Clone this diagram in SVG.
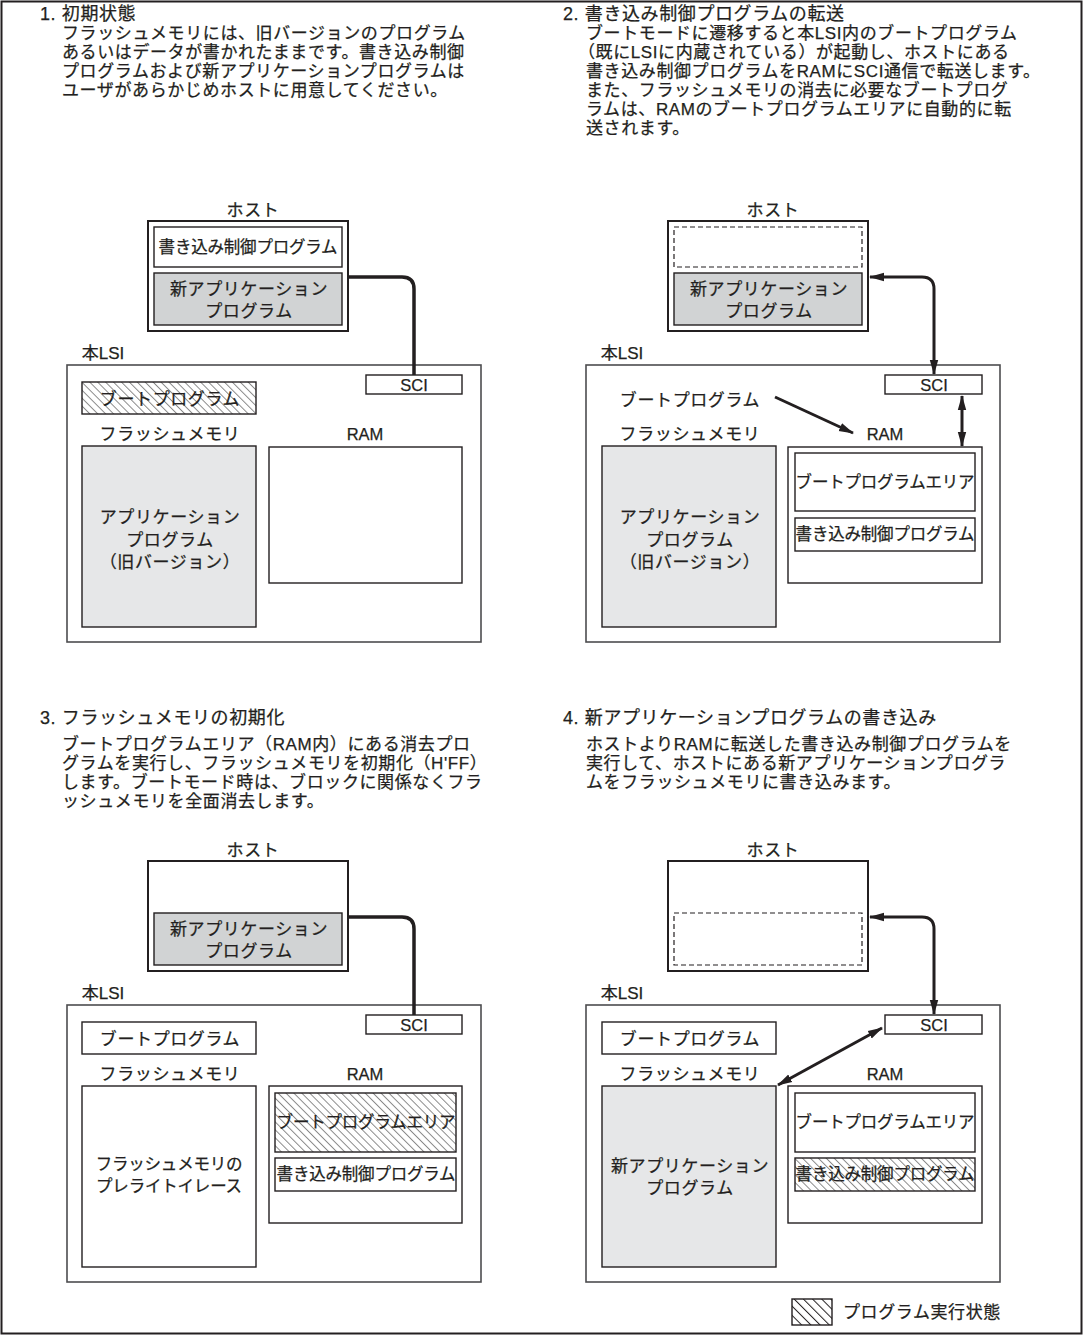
<svg xmlns="http://www.w3.org/2000/svg" width="1083" height="1335" viewBox="0 0 1083 1335">
<defs>
<style>
text{font-family:"Liberation Sans","Noto Sans CJK JP",sans-serif;fill:#231f20;stroke:#231f20;stroke-width:0.25px;}
.title{font-size:18px;letter-spacing:0.6px;}
.body{font-size:17px;letter-spacing:0.6px;}
.lbl{font-size:17px;letter-spacing:0.6px;text-anchor:middle;}
.tl{font-size:16.5px;letter-spacing:-0.2px;text-anchor:middle;}
.lat{font-size:16.5px;text-anchor:middle;}
.host{fill:#fff;stroke:#231f20;stroke-width:2;}
.box{fill:#fff;stroke:#231f20;stroke-width:1.4;}
.lsi{fill:#fff;stroke:#4d4d4f;stroke-width:1.6;}
.gray{fill:#d1d3d4;stroke:#231f20;stroke-width:1.4;}
.light{fill:#e6e7e8;stroke:#231f20;stroke-width:1.4;}
.dash{fill:none;stroke:#231f20;stroke-width:1.2;stroke-dasharray:5 3;}
.hatchfill{fill:url(#hatch);stroke:#231f20;stroke-width:1.4;}
.wire{fill:none;stroke:#231f20;stroke-width:3.5;}
.arr{fill:none;stroke:#231f20;stroke-width:3;marker-start:url(#ah);marker-end:url(#ah);}
.arr1{fill:none;stroke:#231f20;stroke-width:3;marker-end:url(#ah);}
</style>
<pattern id="hatch" patternUnits="userSpaceOnUse" width="5.6" height="10" patternTransform="rotate(-45)">
<rect width="5.6" height="10" fill="#fff"/>
<line x1="0.5" y1="0" x2="0.5" y2="10" stroke="#555" stroke-width="0.7"/>
</pattern>
<pattern id="hatchL" patternUnits="userSpaceOnUse" width="6.5" height="10" patternTransform="rotate(-45)">
<rect width="6.5" height="10" fill="#fff"/>
<line x1="0.5" y1="0" x2="0.5" y2="10" stroke="#231f20" stroke-width="1"/>
</pattern>
<marker id="ah" markerUnits="userSpaceOnUse" markerWidth="15" markerHeight="10" refX="14" refY="5" orient="auto-start-reverse">
<path d="M0,0.8 L15,5 L0,9.2 z" fill="#231f20"/>
</marker>
</defs>
<rect x="1.5" y="1.5" width="1080" height="1332" fill="#fff" stroke="#231f20" stroke-width="2"/>

<!-- Panel texts -->
<g id="text1">
<text class="title" x="40" y="20">1. 初期状態</text>
<text class="body" x="62" y="39">フラッシュメモリには、旧バージョンのプログラム</text>
<text class="body" x="62" y="58">あるいはデータが書かれたままです。書き込み制御</text>
<text class="body" x="62" y="77">プログラムおよび新アプリケーションプログラムは</text>
<text class="body" x="62" y="96">ユーザがあらかじめホストに用意してください。</text>
</g>
<g id="text2">
<text class="title" x="563" y="20">2. 書き込み制御プログラムの転送</text>
<text class="body" x="586" y="39">ブートモードに遷移すると本LSI内のブートプログラム</text>
<text class="body" x="578" y="58">（既にLSIに内蔵されている）が起動し、ホストにある</text>
<text class="body" x="586" y="77">書き込み制御プログラムをRAMにSCI通信で転送します。</text>
<text class="body" x="586" y="96">また、フラッシュメモリの消去に必要なブートプログ</text>
<text class="body" x="586" y="115">ラムは、RAMのブートプログラムエリアに自動的に転</text>
<text class="body" x="586" y="134">送されます。</text>
</g>
<g id="text3">
<text class="title" x="40" y="724">3. フラッシュメモリの初期化</text>
<text class="body" x="62" y="750">ブートプログラムエリア（RAM内）にある消去プロ</text>
<text class="body" x="62" y="769">グラムを実行し、フラッシュメモリを初期化（H'FF）</text>
<text class="body" x="62" y="788">します。ブートモード時は、ブロックに関係なくフラ</text>
<text class="body" x="62" y="807">ッシュメモリを全面消去します。</text>
</g>
<g id="text4">
<text class="title" x="563" y="724">4. 新アプリケーションプログラムの書き込み</text>
<text class="body" x="586" y="750">ホストよりRAMに転送した書き込み制御プログラムを</text>
<text class="body" x="586" y="769">実行して、ホストにある新アプリケーションプログラ</text>
<text class="body" x="586" y="788">ムをフラッシュメモリに書き込みます。</text>
</g>

<!-- Panel 1 -->
<g id="p1-host">
<text class="lbl" x="253" y="216">ホスト</text>
<rect class="host" x="148" y="221" width="200" height="110"/>
</g>
<g id="p1-write">
<rect class="box" x="154" y="227" width="188" height="40"/>
<text class="tl" x="248" y="253">書き込み制御プログラム</text>
</g>
<g id="p1-newapp">
<rect class="gray" x="154" y="273" width="188" height="52"/>
<text class="lbl" x="249" y="295">新アプリケーション</text>
<text class="lbl" x="249" y="317">プログラム</text>
</g>
<g id="p1-lsi">
<text class="lbl" x="103" y="359" style="letter-spacing:0">本LSI</text>
<rect class="lsi" x="67" y="365" width="414" height="277"/>
</g>
<g id="p1-sci">
<rect class="box" x="366" y="375" width="96" height="19"/>
<text class="lat" x="414" y="391">SCI</text>
</g>
<g id="p1-boot">
<rect class="hatchfill" x="82" y="382" width="174" height="32"/>
<text class="lbl" x="170" y="405">ブートプログラム</text>
</g>
<g id="p1-flash">
<text class="lbl" x="170" y="440">フラッシュメモリ</text>
<rect class="light" x="82" y="446" width="174" height="181"/>
<text class="lbl" x="170" y="523">アプリケーション</text>
<text class="lbl" x="170" y="546">プログラム</text>
<text class="lbl" x="170" y="568">（旧バージョン）</text>
</g>
<g id="p1-ram">
<text class="lat" x="365" y="440">RAM</text>
<rect class="box" x="269" y="447" width="193" height="136"/>
</g>

<!-- Panel 2 -->
<g id="p2-host">
<text class="lbl" x="773" y="216">ホスト</text>
<rect class="host" x="668" y="221" width="200" height="110"/>
<rect class="dash" x="674" y="227" width="188" height="40"/>
</g>
<g id="p2-newapp">
<rect class="gray" x="674" y="273" width="188" height="52"/>
<text class="lbl" x="769" y="295">新アプリケーション</text>
<text class="lbl" x="769" y="317">プログラム</text>
</g>
<g id="p2-lsi">
<text class="lbl" x="622" y="359" style="letter-spacing:0">本LSI</text>
<rect class="lsi" x="586" y="365" width="414" height="277"/>
</g>
<g id="p2-sci">
<rect class="box" x="885" y="375" width="97" height="19"/>
<text class="lat" x="934" y="391">SCI</text>
</g>
<g id="p2-boot">
<text class="lbl" x="690" y="406">ブートプログラム</text>
</g>
<g id="p2-flash">
<text class="lbl" x="690" y="440">フラッシュメモリ</text>
<rect class="light" x="602" y="446" width="174" height="181"/>
<text class="lbl" x="690" y="523">アプリケーション</text>
<text class="lbl" x="690" y="546">プログラム</text>
<text class="lbl" x="690" y="568">（旧バージョン）</text>
</g>
<g id="p2-ram">
<text class="lat" x="885" y="440">RAM</text>
<rect class="box" x="788" y="447" width="194" height="136"/>
</g>
<g id="p2-bootarea">
<rect class="box" x="795" y="453" width="180" height="58"/>
<text class="tl" x="885" y="488">ブートプログラムエリア</text>
</g>
<g id="p2-write">
<rect class="box" x="795" y="518" width="180" height="33"/>
<text class="tl" x="885" y="540">書き込み制御プログラム</text>
</g>

<!-- Panel 3 -->
<g id="p3-host">
<text class="lbl" x="253" y="856">ホスト</text>
<rect class="host" x="148" y="861" width="200" height="110"/>
</g>
<g id="p3-newapp">
<rect class="gray" x="154" y="913" width="188" height="52"/>
<text class="lbl" x="249" y="935">新アプリケーション</text>
<text class="lbl" x="249" y="957">プログラム</text>
</g>
<g id="p3-lsi">
<text class="lbl" x="103" y="999" style="letter-spacing:0">本LSI</text>
<rect class="lsi" x="67" y="1005" width="414" height="277"/>
</g>
<g id="p3-sci">
<rect class="box" x="366" y="1015" width="96" height="19"/>
<text class="lat" x="414" y="1031">SCI</text>
</g>
<g id="p3-boot">
<rect class="box" x="82" y="1022" width="174" height="32"/>
<text class="lbl" x="170" y="1045">ブートプログラム</text>
</g>
<g id="p3-flash">
<text class="lbl" x="170" y="1080">フラッシュメモリ</text>
<rect class="box" x="82" y="1086" width="174" height="181"/>
<text class="tl" x="169" y="1170">フラッシュメモリの</text>
<text class="tl" x="169" y="1192">プレライトイレース</text>
</g>
<g id="p3-ram">
<text class="lat" x="365" y="1080">RAM</text>
<rect class="box" x="269" y="1086" width="193" height="137"/>
</g>
<g id="p3-bootarea">
<rect class="hatchfill" x="275" y="1093" width="181" height="59"/>
<text class="tl" x="366" y="1128">ブートプログラムエリア</text>
</g>
<g id="p3-write">
<rect class="box" x="275" y="1158" width="181" height="33"/>
<text class="tl" x="366" y="1180">書き込み制御プログラム</text>
</g>

<!-- Panel 4 -->
<g id="p4-host">
<text class="lbl" x="773" y="856">ホスト</text>
<rect class="host" x="668" y="861" width="200" height="110"/>
<rect class="dash" x="674" y="913" width="188" height="52"/>
</g>
<g id="p4-lsi">
<text class="lbl" x="622" y="999" style="letter-spacing:0">本LSI</text>
<rect class="lsi" x="586" y="1005" width="414" height="277"/>
</g>
<g id="p4-sci">
<rect class="box" x="885" y="1015" width="97" height="19"/>
<text class="lat" x="934" y="1031">SCI</text>
</g>
<g id="p4-boot">
<rect class="box" x="602" y="1022" width="174" height="32"/>
<text class="lbl" x="690" y="1045">ブートプログラム</text>
</g>
<g id="p4-flash">
<text class="lbl" x="690" y="1080">フラッシュメモリ</text>
<rect class="light" x="602" y="1086" width="174" height="181"/>
<text class="lbl" x="690" y="1172">新アプリケーション</text>
<text class="lbl" x="690" y="1194">プログラム</text>
</g>
<g id="p4-ram">
<text class="lat" x="885" y="1080">RAM</text>
<rect class="box" x="788" y="1086" width="194" height="137"/>
</g>
<g id="p4-bootarea">
<rect class="box" x="795" y="1093" width="180" height="59"/>
<text class="tl" x="885" y="1128">ブートプログラムエリア</text>
</g>
<g id="p4-write">
<rect class="hatchfill" x="795" y="1158" width="180" height="33"/>
<text class="tl" x="885" y="1180">書き込み制御プログラム</text>
</g>

<!-- Legend -->
<g id="legend">
<rect x="792" y="1299" width="40" height="26" fill="url(#hatchL)" stroke="#231f20" stroke-width="1.4"/>
<text class="body" x="843" y="1318">プログラム実行状態</text>
</g>

<!-- Connectors -->
<g id="connectors">
<path class="wire" d="M348,277 H402 Q414,277 414,289 V375"/>
<path class="arr" d="M870,277 H922 Q934,277 934,289 V374"/>
<path class="arr1" d="M775,397 L853,433"/>
<path class="arr" d="M962,396 V446"/>
<path class="wire" d="M348,917 H402 Q414,917 414,929 V1015"/>
<path class="arr" d="M870,917 H922 Q934,917 934,929 V1014"/>
<path class="arr" d="M882,1028 L778,1085"/>
</g>
</svg>
